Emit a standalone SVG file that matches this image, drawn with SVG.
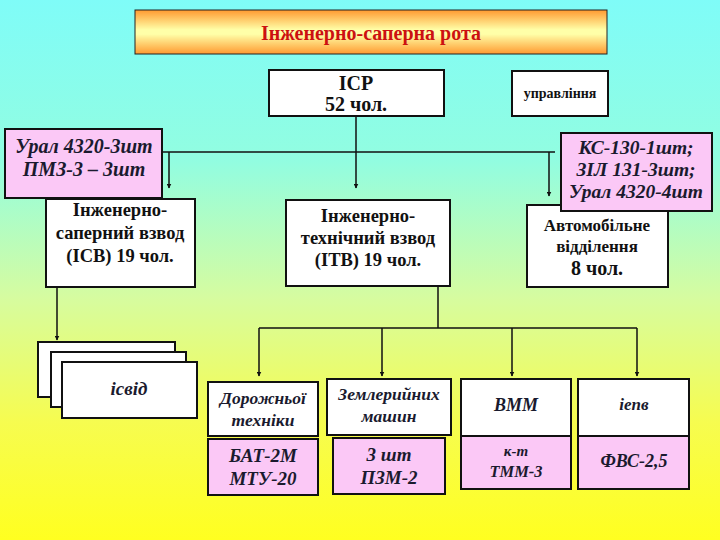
<svg xmlns="http://www.w3.org/2000/svg" width="720" height="540" viewBox="0 0 720 540">
<defs>
<linearGradient id="bg" x1="0" y1="0" x2="0" y2="1">
<stop offset="0" stop-color="#7ffcf8"/>
<stop offset="0.3" stop-color="#92fde0"/>
<stop offset="0.55" stop-color="#d6fca0"/>
<stop offset="0.78" stop-color="#f6fc50"/>
<stop offset="1" stop-color="#ffff20"/>
</linearGradient>
<linearGradient id="tg" x1="0" y1="0" x2="0" y2="1">
<stop offset="0" stop-color="#ff9a30"/>
<stop offset="0.45" stop-color="#ffffa8"/>
<stop offset="0.55" stop-color="#ffffa8"/>
<stop offset="1" stop-color="#ff9a30"/>
</linearGradient>
<marker id="ar" viewBox="0 0 10 10" refX="9" refY="5" markerWidth="5" markerHeight="5" orient="auto" markerUnits="userSpaceOnUse">
<path d="M0,0 L10,5 L0,10 z" fill="#111"/>
</marker>
<style>
.box{fill:#fff;stroke:#111;stroke-width:2}
.pk{fill:#fbc8f6;stroke:#111;stroke-width:2}
.t{font-family:"Liberation Serif","Times New Roman",serif;font-weight:bold;text-anchor:middle;fill:#111}
.i{font-style:italic;fill:#1a1a2e}
.ln{stroke:#111;stroke-width:1.5;fill:none}
.la{stroke:#111;stroke-width:1.5;fill:none;marker-end:url(#ar)}
</style>
</defs>
<rect x="0" y="0" width="720" height="540" fill="url(#bg)"/>

<g id="title">
<rect x="135" y="10" width="472" height="44" fill="url(#tg)" stroke="#222" stroke-width="1"/>
<text class="t" x="371" y="40" font-size="20" style="fill:#cc1111">Інженерно-саперна рота</text>
</g>

<g id="connectors">
<line class="ln" x1="356" y1="116" x2="356" y2="152"/>
<line class="la" x1="356" y1="152" x2="356" y2="188"/>
<line class="ln" x1="162" y1="152" x2="555" y2="152"/>
<line class="la" x1="169" y1="152" x2="169" y2="188"/>
<line class="la" x1="549" y1="152" x2="549" y2="196"/>
<line class="la" x1="57" y1="287" x2="57" y2="340"/>
<line class="ln" x1="438" y1="286" x2="438" y2="328"/>
<line class="ln" x1="259" y1="328" x2="637" y2="328"/>
<line class="la" x1="259" y1="328" x2="259" y2="376"/>
<line class="la" x1="382" y1="328" x2="382" y2="376"/>
<line class="la" x1="512" y1="328" x2="512" y2="376"/>
<line class="la" x1="637" y1="328" x2="637" y2="376"/>
</g>

<g id="isr">
<rect class="box" x="269" y="70" width="175" height="46"/>
<text class="t" x="356" y="90" font-size="20">ІСР</text>
<text class="t" x="356" y="111" font-size="20">52 чол.</text>
</g>

<g id="upr">
<rect class="box" x="512" y="71" width="96" height="45"/>
<text class="t" x="560" y="98" font-size="14">управління</text>
</g>

<g id="icv">
<rect class="box" x="46" y="199" width="149" height="88"/>
<text class="t" x="120" y="216" font-size="18.5">Інженерно-</text>
<text class="t" x="120" y="239" font-size="18.5">саперний взвод</text>
<text class="t" x="120" y="262" font-size="18.5">(ІСВ) 19 чол.</text>
</g>

<g id="eq-left">
<rect class="pk" x="5" y="129" width="157" height="69"/>
<text class="t i" x="84" y="153" font-size="20">Урал 4320-3шт</text>
<text class="t i" x="84" y="176" font-size="20">ПМЗ-3 – 3шт</text>
</g>

<g id="itv">
<rect class="box" x="286" y="200" width="164" height="86"/>
<text class="t" x="368" y="222" font-size="18.5">Інженерно-</text>
<text class="t" x="368" y="244" font-size="18.5">технічний взвод</text>
<text class="t" x="368" y="266" font-size="18.5">(ІТВ) 19 чол.</text>
</g>

<g id="avto">
<rect class="box" x="527" y="205" width="141" height="82"/>
<text class="t" x="597" y="231" font-size="17">Автомобільне</text>
<text class="t" x="597" y="252" font-size="17">відділення</text>
<text class="t" x="597" y="275" font-size="20">8 чол.</text>
</g>

<g id="eq-right">
<rect class="pk" x="561" y="133" width="151" height="78"/>
<text class="t i" x="636" y="154" font-size="19.5">КС-130-1шт;</text>
<text class="t i" x="636" y="176" font-size="19.5">ЗІЛ 131-3шт;</text>
<text class="t i" x="636" y="198" font-size="19.5">Урал 4320-4шт</text>
</g>

<g id="isvid">
<rect class="box" x="38" y="342" width="137" height="55"/>
<rect class="box" x="51" y="352" width="135" height="55"/>
<rect class="box" x="62" y="362" width="135" height="56"/>
<text class="t i" x="129" y="395" font-size="19">ісвід</text>
</g>

<g id="dor">
<rect class="box" x="208" y="382" width="110" height="54"/>
<text class="t i" x="263" y="404" font-size="17.5">Дорожньої</text>
<text class="t i" x="263" y="426" font-size="17.5">техніки</text>
<rect class="pk" x="208" y="439" width="110" height="56"/>
<text class="t i" x="263" y="462" font-size="19">БАТ-2М</text>
<text class="t i" x="263" y="485" font-size="19">МТУ-20</text>
</g>

<g id="zem">
<rect class="box" x="327" y="379" width="124" height="56"/>
<text class="t i" x="389" y="400" font-size="17.5">Землерийних</text>
<text class="t i" x="389" y="422" font-size="17.5">машин</text>
<rect class="pk" x="333" y="438" width="112" height="56"/>
<text class="t i" x="389" y="461" font-size="19">3 шт</text>
<text class="t i" x="389" y="484" font-size="19">ПЗМ-2</text>
</g>

<g id="vmm">
<rect class="box" x="461" y="379" width="110" height="57"/>
<text class="t i" x="516" y="411" font-size="18">ВММ</text>
<rect class="pk" x="461" y="436" width="110" height="53"/>
<text class="t i" x="516" y="456" font-size="15">к-т</text>
<text class="t i" x="516" y="477" font-size="16.5">ТММ-3</text>
</g>

<g id="iepv">
<rect class="box" x="578" y="379" width="111" height="57"/>
<text class="t i" x="634" y="410" font-size="17">іепв</text>
<rect class="pk" x="578" y="436" width="111" height="53"/>
<text class="t i" x="634" y="467" font-size="18">ФВС-2,5</text>
</g>
</svg>
